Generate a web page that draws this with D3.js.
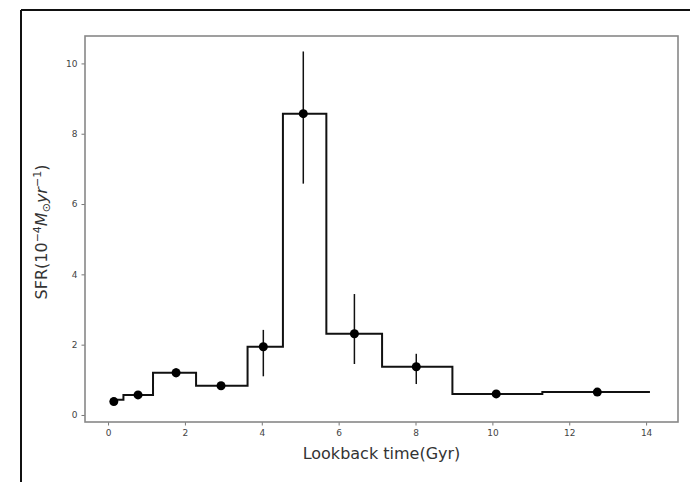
<!DOCTYPE html>
<html>
<head>
<meta charset="utf-8">
<script src="https://cdn.jsdelivr.net/npm/d3@7"></script>
<style>
  body { margin: 0; background: #fff; }
  svg { display: block; }
  .tick text { font-family: "DejaVu Sans", sans-serif; font-size: 9px; fill: #444; }
  .axis-label { font-family: "DejaVu Sans", sans-serif; font-size: 16px; fill: #333; }
</style>
</head>
<body>
<svg width="690" height="482"></svg>
<script>
// bin edges of the star formation history (Gyr) and SFR in each bin
const binEdges = [0.05, 0.4, 1.17, 2.29, 3.63, 4.55, 5.68, 7.13, 8.96, 11.3, 14.1]
const binSfr = [0.43, 0.57, 1.2, 0.83, 1.94, 8.57, 2.31, 1.37, 0.6, 0.65]

// measured points with error bars
const ptTime = [0.15, 0.78, 1.77, 2.94, 4.04, 5.08, 6.41, 8.02, 10.1, 12.73]
const ptSfr = [0.38, 0.57, 1.2, 0.83, 1.94, 8.57, 2.31, 1.37, 0.6, 0.65]
const ptLow = [0.33, 0.5, 1.07, 0.73, 1.1, 6.58, 1.45, 0.88, 0.55, 0.58]
const ptHigh = [0.43, 0.64, 1.33, 0.93, 2.42, 10.34, 3.44, 1.74, 0.66, 0.72]

const xTicks = [0, 2, 4, 6, 8, 10, 12, 14]
const yTicks = [0, 2, 4, 6, 8, 10]

const svg = d3.select("svg")
const frame = {left: 85, right: 678, top: 36, bottom: 422}

// outer black border (top and left, as in the screenshot)
svg.append("line").attr("x1", 21).attr("x2", 690).attr("y1", 10).attr("y2", 10)
    .attr("stroke", "#111").attr("stroke-width", 2)
svg.append("line").attr("x1", 21).attr("x2", 21).attr("y1", 10).attr("y2", 482)
    .attr("stroke", "#111").attr("stroke-width", 2)

const x = d3.scaleLinear().domain([-0.6, 14.83]).range([frame.left, frame.right])
const y = d3.scaleLinear().domain([-0.2, 10.78]).range([frame.bottom, frame.top])

// axes
const xAxis = svg.append("g")
    .attr("transform", `translate(0, ${frame.bottom})`)
    .call(d3.axisBottom(x).tickValues(xTicks).tickSize(3.5).tickPadding(4))
const yAxis = svg.append("g")
    .attr("transform", `translate(${frame.left}, 0)`)
    .call(d3.axisLeft(y).tickValues(yTicks).tickSize(3.5).tickPadding(4))
xAxis.select(".domain").remove()
yAxis.select(".domain").remove()
svg.selectAll(".tick line").attr("stroke", "#777")

// plot frame
svg.append("rect")
    .attr("x", frame.left).attr("y", frame.top)
    .attr("width", frame.right - frame.left).attr("height", frame.bottom - frame.top)
    .attr("fill", "none").attr("stroke", "#888").attr("stroke-width", 1.6)

// step histogram
const stepPts = binSfr.map((v, i) => [binEdges[i], v])
stepPts.push([binEdges[binEdges.length - 1], binSfr[binSfr.length - 1]])
const stepLine = d3.line()
    .x(d => x(d[0]))
    .y(d => y(d[1]))
    .curve(d3.curveStepAfter)
svg.append("path")
    .attr("d", stepLine(stepPts))
    .attr("fill", "none")
    .attr("stroke", "#111")
    .attr("stroke-width", 2)

// error bars
svg.selectAll(".err")
    .data(ptTime)
    .enter()
    .append("line")
    .attr("class", "err")
    .attr("x1", d => x(d)).attr("x2", d => x(d))
    .attr("y1", (d, i) => y(ptLow[i]))
    .attr("y2", (d, i) => y(ptHigh[i]))
    .attr("stroke", "#111")
    .attr("stroke-width", 1.5)

// points
svg.selectAll(".pt")
    .data(ptTime)
    .enter()
    .append("circle")
    .attr("class", "pt")
    .attr("cx", d => x(d))
    .attr("cy", (d, i) => y(ptSfr[i]))
    .attr("r", 4.5)
    .attr("fill", "#000")

// labels
svg.append("text")
    .attr("class", "axis-label")
    .attr("x", (frame.left + frame.right) / 2)
    .attr("y", 459)
    .attr("text-anchor", "middle")
    .text("Lookback time(Gyr)")

const yl = svg.append("text")
    .attr("class", "axis-label")
    .attr("transform", `translate(47, ${(frame.top + frame.bottom) / 2 + 3}) rotate(-90)`)
    .attr("text-anchor", "middle")
yl.append("tspan").text("SFR(10")
yl.append("tspan").attr("dy", -6).attr("font-size", 11).text("−4")
yl.append("tspan").attr("dy", 6).attr("font-style", "italic").text("M")
yl.append("tspan").attr("dy", 3).attr("font-size", 11).text("⊙")
yl.append("tspan").attr("dy", -3).attr("font-style", "italic").text("yr")
yl.append("tspan").attr("dy", -6).attr("font-size", 11).text("−1")
yl.append("tspan").attr("dy", 6).text(")")
</script>
</body>
</html>
